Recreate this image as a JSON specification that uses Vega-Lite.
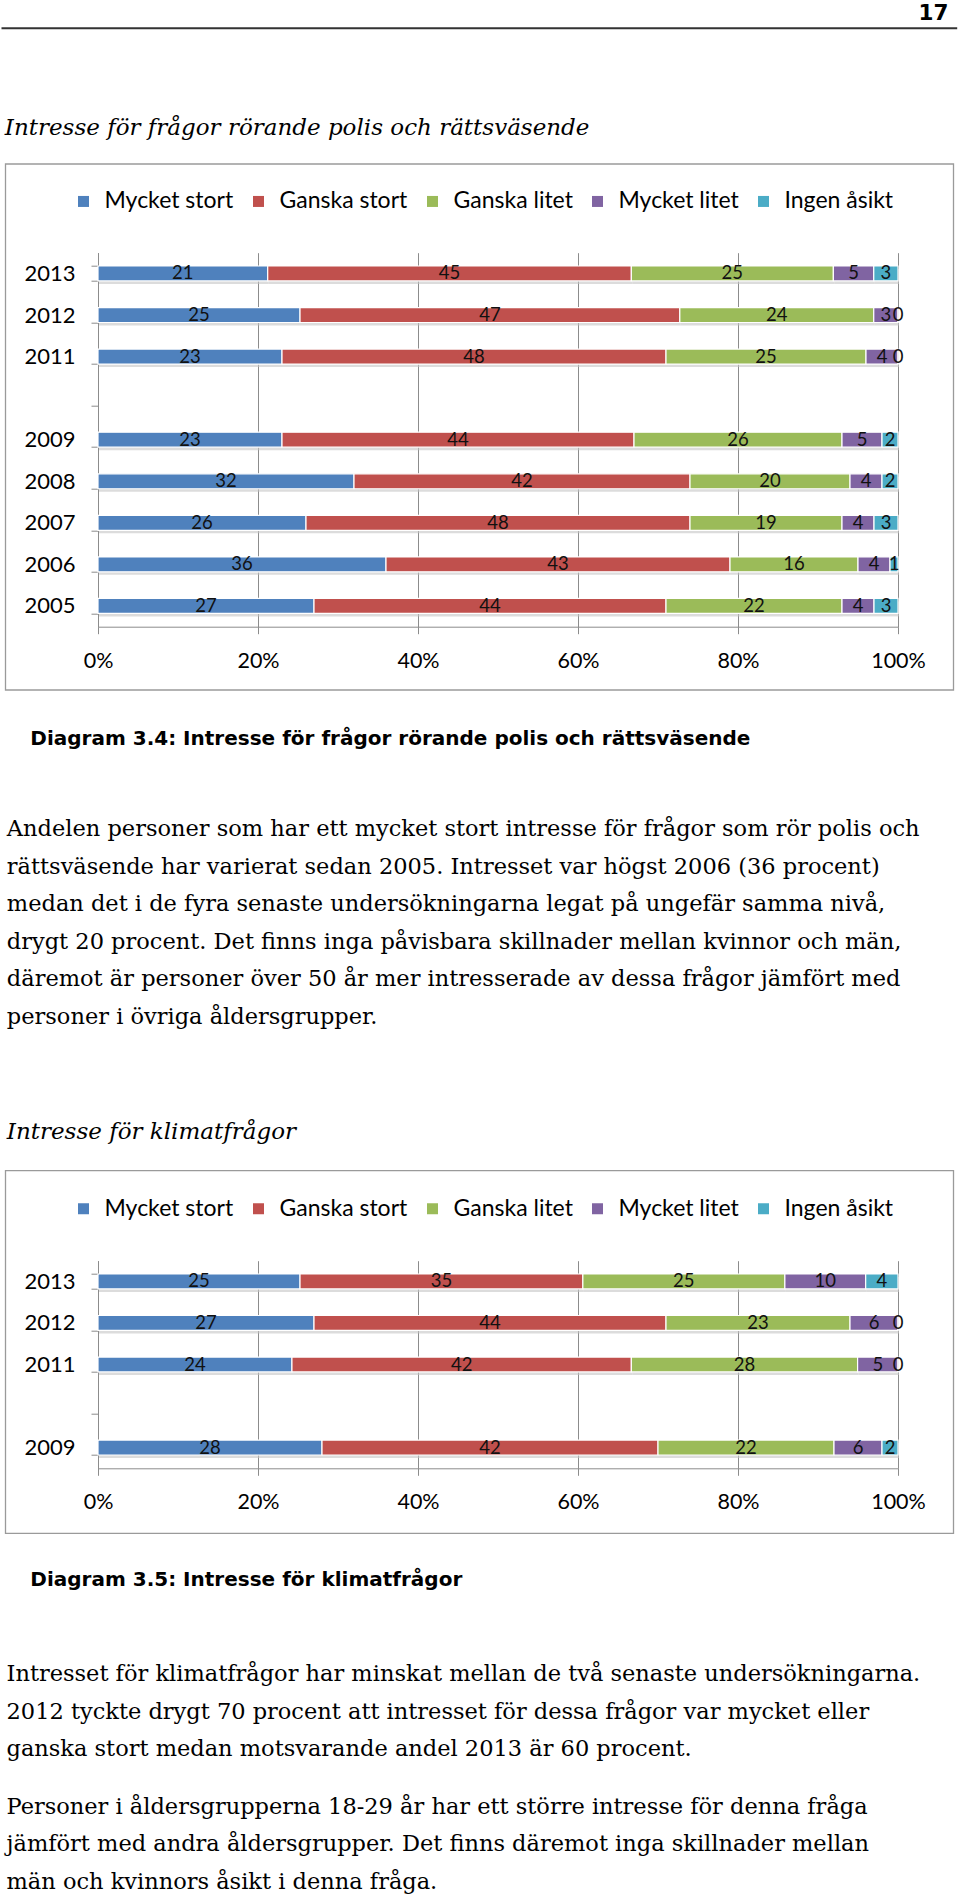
{
  "$schema": "https://vega.github.io/schema/vega-lite/v6.json",
  "background": "white",
  "padding": 0,
  "autosize": {"type": "pad"},
  "config": {"view": {"stroke": null}, "font": "Lato"},
  "datasets": {
    "polis": [
      {"year":"2013","cat":"Mycket stort","k":1,"v":21},{"year":"2013","cat":"Ganska stort","k":2,"v":45},{"year":"2013","cat":"Ganska litet","k":3,"v":25},{"year":"2013","cat":"Mycket litet","k":4,"v":5},{"year":"2013","cat":"Ingen åsikt","k":5,"v":3},
      {"year":"2012","cat":"Mycket stort","k":1,"v":25},{"year":"2012","cat":"Ganska stort","k":2,"v":47},{"year":"2012","cat":"Ganska litet","k":3,"v":24},{"year":"2012","cat":"Mycket litet","k":4,"v":3},{"year":"2012","cat":"Ingen åsikt","k":5,"v":0},
      {"year":"2011","cat":"Mycket stort","k":1,"v":23},{"year":"2011","cat":"Ganska stort","k":2,"v":48},{"year":"2011","cat":"Ganska litet","k":3,"v":25},{"year":"2011","cat":"Mycket litet","k":4,"v":4},{"year":"2011","cat":"Ingen åsikt","k":5,"v":0},
      {"year":"2009","cat":"Mycket stort","k":1,"v":23},{"year":"2009","cat":"Ganska stort","k":2,"v":44},{"year":"2009","cat":"Ganska litet","k":3,"v":26},{"year":"2009","cat":"Mycket litet","k":4,"v":5},{"year":"2009","cat":"Ingen åsikt","k":5,"v":2},
      {"year":"2008","cat":"Mycket stort","k":1,"v":32},{"year":"2008","cat":"Ganska stort","k":2,"v":42},{"year":"2008","cat":"Ganska litet","k":3,"v":20},{"year":"2008","cat":"Mycket litet","k":4,"v":4},{"year":"2008","cat":"Ingen åsikt","k":5,"v":2},
      {"year":"2007","cat":"Mycket stort","k":1,"v":26},{"year":"2007","cat":"Ganska stort","k":2,"v":48},{"year":"2007","cat":"Ganska litet","k":3,"v":19},{"year":"2007","cat":"Mycket litet","k":4,"v":4},{"year":"2007","cat":"Ingen åsikt","k":5,"v":3},
      {"year":"2006","cat":"Mycket stort","k":1,"v":36},{"year":"2006","cat":"Ganska stort","k":2,"v":43},{"year":"2006","cat":"Ganska litet","k":3,"v":16},{"year":"2006","cat":"Mycket litet","k":4,"v":4},{"year":"2006","cat":"Ingen åsikt","k":5,"v":1},
      {"year":"2005","cat":"Mycket stort","k":1,"v":27},{"year":"2005","cat":"Ganska stort","k":2,"v":44},{"year":"2005","cat":"Ganska litet","k":3,"v":22},{"year":"2005","cat":"Mycket litet","k":4,"v":4},{"year":"2005","cat":"Ingen åsikt","k":5,"v":3}
    ],
    "klimat": [
      {"year":"2013","cat":"Mycket stort","k":1,"v":25},{"year":"2013","cat":"Ganska stort","k":2,"v":35},{"year":"2013","cat":"Ganska litet","k":3,"v":25},{"year":"2013","cat":"Mycket litet","k":4,"v":10},{"year":"2013","cat":"Ingen åsikt","k":5,"v":4},
      {"year":"2012","cat":"Mycket stort","k":1,"v":27},{"year":"2012","cat":"Ganska stort","k":2,"v":44},{"year":"2012","cat":"Ganska litet","k":3,"v":23},{"year":"2012","cat":"Mycket litet","k":4,"v":6},{"year":"2012","cat":"Ingen åsikt","k":5,"v":0},
      {"year":"2011","cat":"Mycket stort","k":1,"v":24},{"year":"2011","cat":"Ganska stort","k":2,"v":42},{"year":"2011","cat":"Ganska litet","k":3,"v":28},{"year":"2011","cat":"Mycket litet","k":4,"v":5},{"year":"2011","cat":"Ingen åsikt","k":5,"v":0},
      {"year":"2009","cat":"Mycket stort","k":1,"v":28},{"year":"2009","cat":"Ganska stort","k":2,"v":42},{"year":"2009","cat":"Ganska litet","k":3,"v":22},{"year":"2009","cat":"Mycket litet","k":4,"v":6},{"year":"2009","cat":"Ingen åsikt","k":5,"v":2}
    ]
  },
  "spacing": 224.7,
  "bounds": "flush",
  "resolve": {"scale": {"color": "independent", "x": "independent", "y": "independent"}, "legend": {"color": "independent"}},
  "vconcat": [
    {
      "width": 800,
      "height": 28,
      "title": {"text": "17", "anchor": "end", "frame": "group", "dx": 50.5, "offset": -24.7, "font": "DejaVu Sans", "fontWeight": "bold", "fontSize": 21.5, "color": "#000000"},
      "layer": [
        {"data": {"values": [{}]}, "mark": {"type": "rect", "color": "white", "opacity": 0}, "encoding": {"x": {"value": -97.5}, "x2": {"value": 0}, "y": {"value": 0}, "y2": {"value": 28}}},
        {"data": {"values": [{}]}, "mark": {"type": "rule", "color": "#333333", "strokeWidth": 2}, "encoding": {"x": {"value": -96.5}, "x2": {"value": 859.2}, "y": {"value": 28.3}}}
      ]
    },
    {
      "spacing": 634,
      "bounds": "flush",
      "resolve": {"scale": {"color": "independent", "x": "independent", "y": "independent"}, "legend": {"color": "independent"}},
      "vconcat": [
        {
          "width": 800,
          "height": 374,
          "title": {"text": "Intresse för frågor rörande polis och rättsväsende", "anchor": "start", "frame": "bounds", "offset": 23.5, "dx": 0, "font": "DejaVu Serif", "fontStyle": "italic", "fontWeight": "normal", "fontSize": 23, "color": "#000000"},
          "data": {"name": "polis"},
          "encoding": {
            "y": {"field": "year", "type": "nominal", "scale": {"domain": ["2013","2012","2011"," ","2009","2008","2007","2006","2005"], "paddingInner": 0.64, "paddingOuter": 0.32},
                  "axis": {"title": null, "tickBand": "extent", "tickSize": 7, "tickColor": "#8c8c8c", "domainColor": "#8c8c8c", "labelFont": "Lato", "labelFontSize": 22, "labelColor": "#000000", "labelPadding": 16, "grid": false}},
            "x": {"field": "v", "type": "quantitative", "stack": "normalize", "scale": {"domain": [0, 1], "nice": false},
                  "axis": {"values": [0, 0.2, 0.4, 0.6, 0.8, 1], "format": ".0%", "grid": true, "gridColor": "#8c8c8c", "domainColor": "#8c8c8c", "tickColor": "#8c8c8c", "tickSize": 7, "labelFont": "Lato", "labelFontSize": 21.5, "labelColor": "#000000", "labelPadding": 16.5, "labelFlush": false, "labelOverlap": false,
                           "title": "Diagram 3.4: Intresse för frågor rörande polis och rättsväsende", "titleFont": "DejaVu Sans", "titleFontWeight": "bold", "titleFontSize": 20, "titleColor": "#000000", "titleAnchor": "start", "titleAlign": "left", "titleBaseline": "alphabetic", "titleX": -68.2, "titleY": 117.3}},
            "order": {"field": "k", "type": "quantitative"}
          },
          "layer": [
            {"data": {"values": [{}]}, "mark": {"type": "rect", "fill": "transparent", "stroke": "#9a9a9a", "strokeWidth": 1.3}, "encoding": {"x": {"value": -92.5}, "x2": {"value": 855.5}, "y": {"value": -88.7}, "y2": {"value": 437.3}}},
            {"mark": {"type": "bar", "color": "#c4c4c4", "opacity": 0.6, "yOffset": 3, "xOffset": 1}, "encoding": {"detail": {"field": "cat"}}},
            {"mark": {"type": "bar", "stroke": "white", "strokeWidth": 1.2},
             "encoding": {"color": {"field": "cat", "type": "nominal",
               "scale": {"domain": ["Mycket stort","Ganska stort","Ganska litet","Mycket litet","Ingen åsikt"], "range": ["#4F81BD","#C0504D","#9BBB59","#8064A2","#4BACC6"]},
               "legend": {"orient": "none", "legendX": -26, "legendY": -63, "direction": "horizontal", "title": null, "symbolType": "square", "symbolSize": 121, "symbolStrokeWidth": 0, "labelFont": "Lato", "labelFontSize": 23, "labelColor": "#000000", "labelOffset": 9.5, "columnPadding": 13, "padding": 0, "labelLimit": 300}}}},
            {"mark": {"type": "text", "font": "Lato", "fontSize": 18.5, "color": "#111111", "baseline": "middle"},
             "encoding": {"x": {"field": "v", "type": "quantitative", "stack": "normalize", "bandPosition": 0.5}, "detail": {"field": "cat"}, "text": {"field": "v", "type": "quantitative"}}}
          ]
        },
        {
          "spacing": 424.7,
          "bounds": "flush",
          "resolve": {"scale": {"color": "independent", "x": "independent", "y": "independent"}, "legend": {"color": "independent"}},
          "vconcat": [
            {
              "width": 800,
              "height": 207.6,
              "title": {
                "text": [
                  "Andelen personer som har ett mycket stort intresse för frågor som rör polis och",
                  "rättsväsende har varierat sedan 2005. Intresset var högst 2006 (36 procent)",
                  "medan det i de fyra senaste undersökningarna legat på ungefär samma nivå,",
                  "drygt 20 procent. Det finns inga påvisbara skillnader mellan kvinnor och män,",
                  "däremot är personer över 50 år mer intresserade av dessa frågor jämfört med",
                  "personer i övriga åldersgrupper."
                ],
                "subtitle": "Intresse för klimatfrågor",
                "anchor": "start", "frame": "bounds", "dx": 2, "offset": 26.2,
                "font": "DejaVu Serif", "fontSize": 22.5, "fontWeight": "normal", "lineHeight": 37.5, "color": "#000000",
                "subtitleFont": "DejaVu Serif", "subtitleFontStyle": "italic", "subtitleFontSize": 23, "subtitleColor": "#000000", "subtitlePadding": 92.7
              },
              "data": {"name": "klimat"},
              "encoding": {
                "y": {"field": "year", "type": "nominal", "scale": {"domain": ["2013","2012","2011"," ","2009"], "paddingInner": 0.64, "paddingOuter": 0.32},
                      "axis": {"title": null, "tickBand": "extent", "tickSize": 7, "tickColor": "#8c8c8c", "domainColor": "#8c8c8c", "labelFont": "Lato", "labelFontSize": 22, "labelColor": "#000000", "labelPadding": 16, "grid": false}},
                "x": {"field": "v", "type": "quantitative", "stack": "normalize", "scale": {"domain": [0, 1], "nice": false},
                      "axis": {"values": [0, 0.2, 0.4, 0.6, 0.8, 1], "format": ".0%", "grid": true, "gridColor": "#8c8c8c", "domainColor": "#8c8c8c", "tickColor": "#8c8c8c", "tickSize": 7, "labelFont": "Lato", "labelFontSize": 21.5, "labelColor": "#000000", "labelPadding": 16.5, "labelFlush": false, "labelOverlap": false,
                               "title": "Diagram 3.5: Intresse för klimatfrågor", "titleFont": "DejaVu Sans", "titleFontWeight": "bold", "titleFontSize": 20, "titleColor": "#000000", "titleAnchor": "start", "titleAlign": "left", "titleBaseline": "alphabetic", "titleX": -68.2, "titleY": 117}},
                "order": {"field": "k", "type": "quantitative"}
              },
              "layer": [
                {"data": {"values": [{}]}, "mark": {"type": "rect", "fill": "transparent", "stroke": "#9a9a9a", "strokeWidth": 1.3}, "encoding": {"x": {"value": -92.5}, "x2": {"value": 855.5}, "y": {"value": -90}, "y2": {"value": 272.6}}},
                {"mark": {"type": "bar", "color": "#c4c4c4", "opacity": 0.6, "yOffset": 3, "xOffset": 1}, "encoding": {"detail": {"field": "cat"}}},
                {"mark": {"type": "bar", "stroke": "white", "strokeWidth": 1.2},
                 "encoding": {"color": {"field": "cat", "type": "nominal",
                   "scale": {"domain": ["Mycket stort","Ganska stort","Ganska litet","Mycket litet","Ingen åsikt"], "range": ["#4F81BD","#C0504D","#9BBB59","#8064A2","#4BACC6"]},
                   "legend": {"orient": "none", "legendX": -26, "legendY": -63.7, "direction": "horizontal", "title": null, "symbolType": "square", "symbolSize": 121, "symbolStrokeWidth": 0, "labelFont": "Lato", "labelFontSize": 23, "labelColor": "#000000", "labelOffset": 9.5, "columnPadding": 13, "padding": 0, "labelLimit": 300}}}},
                {"mark": {"type": "text", "font": "Lato", "fontSize": 18.5, "color": "#111111", "baseline": "middle"},
                 "encoding": {"x": {"field": "v", "type": "quantitative", "stack": "normalize", "bandPosition": 0.5}, "detail": {"field": "cat"}, "text": {"field": "v", "type": "quantitative"}}}
              ]
            },
            {
              "width": 800,
              "height": 1,
              "data": {"values": []},
              "mark": {"type": "point"},
              "encoding": {},
              "title": {
                "text": [
                  "Intresset för klimatfrågor har minskat mellan de två senaste undersökningarna.",
                  "2012 tyckte drygt 70 procent att intresset för dessa frågor var mycket eller",
                  "ganska stort medan motsvarande andel 2013 är 60 procent."
                ],
                "subtitle": [
                  "Personer i åldersgrupperna 18-29 år har ett större intresse för denna fråga",
                  "jämfört med andra åldersgrupper. Det finns däremot inga skillnader mellan",
                  "män och kvinnors åsikt i denna fråga."
                ],
                "anchor": "start", "frame": "group", "dx": -91.5, "offset": 0,
                "font": "DejaVu Serif", "fontSize": 22.5, "fontWeight": "normal", "lineHeight": 37.5, "color": "#000000",
                "subtitleFont": "DejaVu Serif", "subtitleFontSize": 22.5, "subtitleLineHeight": 37.5, "subtitleColor": "#000000", "subtitlePadding": 35.2
              }
            }
          ]
        }
      ]
    }
  ]
}
